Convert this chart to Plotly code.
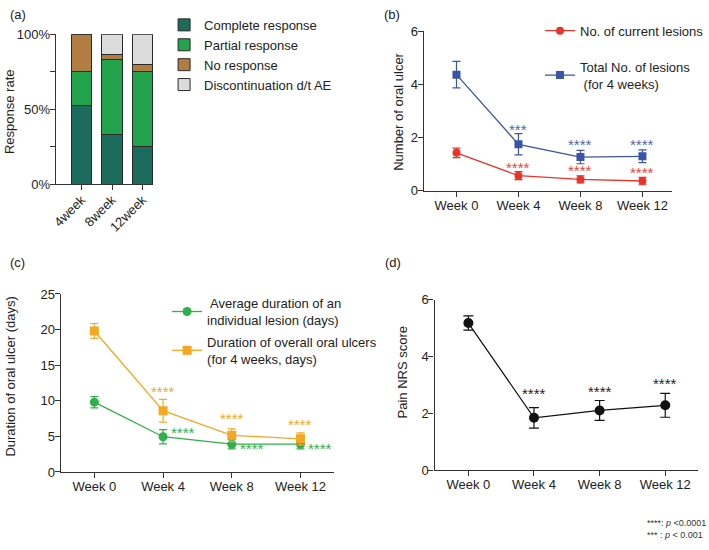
import plotly.graph_objects as go

W, H = 709, 550
FONT = "Liberation Sans, Arial, sans-serif"

# ---------------- data ----------------
# (a) response rate (%)
resp_weeks = ["4week", "8week", "12week"]
complete_resp = [52.5, 33.3, 25.0]
partial_resp = [22.5, 50.0, 50.0]
no_resp = [25.0, 3.3, 5.0]
discont_ae = [0.0, 13.4, 20.0]

weeks = ["Week 0", "Week 4", "Week 8", "Week 12"]
wk_idx = [0, 1, 2, 3]

# (b) number of oral ulcers
cur_lesions = [1.43, 0.57, 0.43, 0.37]
cur_lesions_err = [0.18, 0.15, 0.13, 0.14]
tot_lesions = [4.37, 1.75, 1.27, 1.30]
tot_lesions_err = [0.50, 0.40, 0.25, 0.24]
cur_stars = ["", "****", "****", "****"]
tot_stars = ["", "***", "****", "****"]
cur_star_y = [None, 0.92, 0.79, 0.72]
tot_star_y = [None, 2.36, 1.78, 1.78]

# (c) duration of oral ulcers (days)
avg_dur = [9.8, 4.95, 3.9, 3.9]
avg_dur_err = [0.8, 1.0, 0.65, 0.65]
tot_dur = [19.8, 8.6, 5.15, 4.65]
tot_dur_err = [1.05, 1.6, 0.9, 0.85]
avg_stars = ["", "****", "****", "****"]
tot_dur_stars = ["", "****", "****", "****"]
avg_star_y = [None, 5.7, 3.4, 3.4]
tot_dur_star_y = [None, 11.4, 7.6, 6.8]

# (d) pain NRS score
nrs = [5.18, 1.84, 2.10, 2.28]
nrs_err = [0.25, 0.36, 0.35, 0.42]
nrs_stars = ["", "****", "****", "****"]
nrs_star_y = [None, 2.72, 2.79, 3.1]

# axis titles
title_a = "Response rate"
title_b = "Number of oral ulcer"
title_c = "Duration of oral ulcer (days)"
title_d = "Pain NRS score"

# colours
C_COMPLETE = "#1d6b5c"
C_PARTIAL = "#22a24b"
C_NORESP = "#b27d40"
C_DISC = "#dcdcdc"
C_RED = "#e8352b"
C_BLUE = "#3b55a6"
C_GREEN = "#2eb04a"
C_ORANGE = "#f4a723"
C_BLACK = "#111111"
AX = "#333333"


def dom_x(a, b):
    return [a / W, b / W]


def dom_y(top, bottom):
    return [1 - bottom / H, 1 - top / H]


fig = go.Figure()

# ---------------- (a) stacked bars ----------------
for name, vals, col in [
    ("Complete response", complete_resp, C_COMPLETE),
    ("Partial response", partial_resp, C_PARTIAL),
    ("No response", no_resp, C_NORESP),
    ("Discontinuation d/t AE", discont_ae, C_DISC),
]:
    fig.add_trace(go.Bar(
        x=[0, 1, 2], y=vals, name=name, width=0.66,
        marker=dict(color=col, line=dict(color="#2a2a2a", width=1)),
        xaxis="x", yaxis="y", legend="legend",
    ))

# ---------------- (b) ----------------
fig.add_trace(go.Scatter(
    x=wk_idx, y=cur_lesions, name="No. of current lesions", mode="lines+markers",
    line=dict(color=C_RED, width=1.3), marker=dict(symbol="circle", size=8, color=C_RED),
    error_y=dict(type="data", array=cur_lesions_err, color=C_RED, thickness=1.2, width=4),
    xaxis="x2", yaxis="y2", legend="legend2", legendgroup="b1",
))
fig.add_trace(go.Scatter(
    x=wk_idx, y=tot_lesions, name="Total No. of lesions<br> (for 4 weeks)", mode="lines+markers",
    line=dict(color=C_BLUE, width=1.3), marker=dict(symbol="square", size=8, color=C_BLUE),
    error_y=dict(type="data", array=tot_lesions_err, color=C_BLUE, thickness=1.2, width=4),
    xaxis="x2", yaxis="y2", legend="legend2", legendgroup="b2",
))

# ---------------- (c) ----------------
fig.add_trace(go.Scatter(
    x=wk_idx, y=avg_dur, name=" Average duration of an<br>individual lesion (days)", mode="lines+markers",
    line=dict(color=C_GREEN, width=1.3), marker=dict(symbol="circle", size=9, color=C_GREEN),
    error_y=dict(type="data", array=avg_dur_err, color=C_GREEN, thickness=1.2, width=4),
    xaxis="x3", yaxis="y3", legend="legend3", legendgroup="c1",
))
fig.add_trace(go.Scatter(
    x=wk_idx, y=tot_dur, name="Duration of overall oral ulcers<br>(for 4 weeks, days)", mode="lines+markers",
    line=dict(color=C_ORANGE, width=1.3), marker=dict(symbol="square", size=9, color=C_ORANGE),
    error_y=dict(type="data", array=tot_dur_err, color=C_ORANGE, thickness=1.2, width=4),
    xaxis="x3", yaxis="y3", legend="legend3", legendgroup="c2",
))

# ---------------- (d) ----------------
fig.add_trace(go.Scatter(
    x=wk_idx, y=nrs, name="Pain NRS", mode="lines+markers", showlegend=False,
    line=dict(color=C_BLACK, width=1.2), marker=dict(symbol="circle", size=10, color=C_BLACK),
    error_y=dict(type="data", array=nrs_err, color=C_BLACK, thickness=1.2, width=5),
    xaxis="x4", yaxis="y4",
))

# ---------------- star annotations ----------------
ann = []


def stars(labels, ys, xref, yref, color, xshift=0):
    for i, (s, yv) in enumerate(zip(labels, ys)):
        if s and yv is not None:
            ann.append(dict(x=i, y=yv, xref=xref, yref=yref, text=s, showarrow=False,
                            font=dict(size=15, color=color, family=FONT),
                            xanchor="center", yanchor="middle", xshift=xshift, yshift=-1))


stars(tot_stars, tot_star_y, "x2", "y2", "#5068b0")
stars(cur_stars, cur_star_y, "x2", "y2", "#e8453a")
stars(tot_dur_stars, tot_dur_star_y, "x3", "y3", C_ORANGE)
stars(avg_stars, avg_star_y, "x3", "y3", C_GREEN, xshift=20)
stars(nrs_stars, nrs_star_y, "x4", "y4", "#222222")

# panel labels
for lab, x, y in [("(a)", 4, 8), ("(b)", 380, 8), ("(c)", 4, 263), ("(d)", 381, 263)]:
    ann.append(dict(x=x / W, y=1 - y / H, xref="paper", yref="paper", text=lab, showarrow=False,
                    xanchor="left", yanchor="middle", font=dict(size=13, color="#222", family=FONT)))

# y-axis titles
for txt, x, y in [(title_a, 5, 107), (title_b, 396, 108), (title_c, 7, 380), (title_d, 401, 376)]:
    ann.append(dict(x=x / W, y=1 - y / H, xref="paper", yref="paper", text=txt, showarrow=False,
                    textangle=-90, xanchor="center", yanchor="middle",
                    font=dict(size=13, color="#222", family=FONT)))

# footnote
ann.append(dict(x=645 / W, y=1 - 537 / H, xref="paper", yref="paper",
                text="****: <i>p</i> <0.0001<br>*** : <i>p</i> < 0.001", showarrow=False,
                xanchor="left", yanchor="middle", align="left",
                font=dict(size=9, color="#333", family=FONT)))

axis_common = dict(showline=True, linecolor=AX, linewidth=1.2, ticks="outside", ticklen=5,
                   tickcolor=AX, tickwidth=1.2, showgrid=False, zeroline=False,
                   ticklabelstandoff=-3,
                   tickfont=dict(size=13, color="#222", family=FONT), fixedrange=True)

fig.update_layout(
    width=W, height=H, margin=dict(l=0, r=0, t=0, b=0),
    paper_bgcolor="white", plot_bgcolor="white", barmode="stack",
    font=dict(family=FONT, color="#222"),
    annotations=ann,
    xaxis=dict(axis_common, domain=dom_x(52, 150), range=[-0.85, 2.35],
               tickvals=[0, 1, 2], ticktext=resp_weeks, tickangle=-45, anchor="y"),
    yaxis=dict(axis_common, domain=dom_y(28, 182), range=[0, 100],
               tickvals=[0, 25, 50, 75, 100], ticktext=["0%", "", "50%", "", "100%"], anchor="x"),
    xaxis2=dict(axis_common, domain=dom_x(422, 672), range=[-0.53, 3.48],
                tickvals=wk_idx, ticktext=weeks, anchor="y2"),
    yaxis2=dict(axis_common, domain=dom_y(25, 189), range=[0, 6], tickvals=[0, 2, 4, 6], anchor="x2"),
    xaxis3=dict(axis_common, domain=dom_x(57, 332), range=[-0.49, 3.49],
                tickvals=wk_idx, ticktext=weeks, anchor="y3"),
    yaxis3=dict(axis_common, domain=dom_y(295, 478), range=[0, 25],
                tickvals=[0, 5, 10, 15, 20, 25], anchor="x3"),
    xaxis4=dict(axis_common, domain=dom_x(433, 698), range=[-0.515, 3.5],
                tickvals=wk_idx, ticktext=weeks, anchor="y4"),
    yaxis4=dict(axis_common, domain=dom_y(301, 476), range=[0, 6], tickvals=[0, 2, 4, 6], anchor="x4"),
    legend=dict(x=161 / W, y=1 - 3 / H, xanchor="left", yanchor="top", traceorder="normal",
                font=dict(size=13, color="#222", family=FONT), bgcolor="rgba(0,0,0,0)",
                itemclick=False, itemdoubleclick=False),
    legend2=dict(x=1.0, y=1 - 9 / H, xanchor="right", yanchor="top", traceorder="grouped",
                 tracegroupgap=16, font=dict(size=13, color="#222", family=FONT),
                 bgcolor="rgba(0,0,0,0)"),
    legend3=dict(x=164 / W, y=1 - 289 / H, xanchor="left", yanchor="top", traceorder="grouped",
                 tracegroupgap=2, font=dict(size=13, color="#222", family=FONT),
                 bgcolor="rgba(0,0,0,0)"),
)

fig.write_html("out.html")
